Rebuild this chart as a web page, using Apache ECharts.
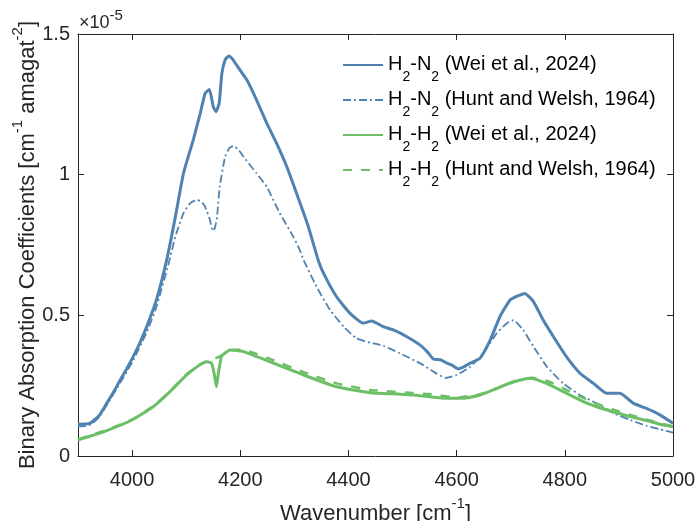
<!DOCTYPE html>
<html>
<head>
<meta charset="utf-8">
<script src="https://cdn.jsdelivr.net/npm/echarts@6/dist/echarts.min.js"></script>
<style>
  html, body { margin: 0; padding: 0; background: #ffffff; }
  #chart { width: 696px; height: 521px; }
</style>
</head>
<body>
<div id="chart"></div>
<script>
// Binary absorption coefficients, in units of 1e-5 cm^-1 amagat^-2

// H2-N2, Wei et al. (2024)
const n2WeiX = [3900, 3922, 3940, 3953, 3965, 3978, 3990, 4002, 4015, 4027, 4045, 4064, 4080, 4095, 4113, 4126, 4135, 4143, 4150, 4155, 4161, 4166, 4172, 4179, 4186, 4193, 4212, 4230, 4249, 4267, 4286, 4304, 4325, 4344, 4354, 4378, 4403, 4427, 4443, 4464, 4483, 4508, 4532, 4545, 4557, 4570, 4582, 4592, 4603, 4614, 4625, 4643, 4662, 4680, 4699, 4717, 4726, 4742, 4760, 4779, 4803, 4828, 4853, 4877, 4902, 4927, 4951, 4976, 5000];
const n2WeiY = [0.113, 0.116, 0.146, 0.187, 0.225, 0.270, 0.310, 0.353, 0.405, 0.460, 0.555, 0.697, 0.850, 1.005, 1.123, 1.218, 1.289, 1.303, 1.242, 1.224, 1.254, 1.360, 1.408, 1.422, 1.410, 1.390, 1.337, 1.266, 1.183, 1.112, 1.028, 0.934, 0.820, 0.697, 0.649, 0.566, 0.507, 0.472, 0.480, 0.460, 0.448, 0.424, 0.395, 0.372, 0.345, 0.342, 0.330, 0.322, 0.310, 0.318, 0.330, 0.347, 0.412, 0.495, 0.555, 0.572, 0.578, 0.549, 0.483, 0.424, 0.353, 0.294, 0.258, 0.223, 0.223, 0.187, 0.169, 0.146, 0.116];

// H2-N2, Hunt and Welsh (1964)
const n2HuntX = [3900, 3922, 3940, 3953, 3978, 4002, 4027, 4045, 4067, 4080, 4095, 4107, 4119, 4128, 4135, 4144, 4149, 4153, 4157, 4162, 4172, 4180, 4187, 4196, 4206, 4230, 4249, 4273, 4298, 4310, 4317, 4341, 4366, 4391, 4415, 4440, 4464, 4495, 4532, 4557, 4579, 4600, 4625, 4649, 4674, 4693, 4705, 4723, 4742, 4767, 4797, 4828, 4859, 4890, 4921, 4951, 4976, 5000];
const n2HuntY = [0.105, 0.110, 0.140, 0.180, 0.260, 0.340, 0.440, 0.530, 0.680, 0.780, 0.863, 0.898, 0.910, 0.905, 0.886, 0.839, 0.800, 0.810, 0.850, 0.957, 1.064, 1.095, 1.102, 1.090, 1.064, 1.005, 0.957, 0.863, 0.780, 0.732, 0.697, 0.602, 0.519, 0.460, 0.418, 0.403, 0.392, 0.365, 0.330, 0.300, 0.278, 0.288, 0.317, 0.365, 0.436, 0.472, 0.483, 0.448, 0.389, 0.317, 0.258, 0.217, 0.187, 0.152, 0.128, 0.107, 0.095, 0.083];

// H2-H2, Wei et al. (2024)
const h2WeiX = [3900, 3947, 4000, 4039, 4070, 4101, 4122, 4138, 4147, 4152, 4156, 4160, 4165, 4172, 4181, 4190, 4206, 4255, 4317, 4378, 4440, 4492, 4520, 4582, 4612, 4643, 4674, 4705, 4736, 4766, 4797, 4828, 4859, 4890, 4921, 4951, 4982, 5000];
const h2WeiY = [0.057, 0.086, 0.128, 0.175, 0.229, 0.288, 0.320, 0.335, 0.330, 0.290, 0.246, 0.300, 0.353, 0.366, 0.377, 0.376, 0.371, 0.335, 0.288, 0.246, 0.225, 0.220, 0.217, 0.205, 0.205, 0.217, 0.240, 0.264, 0.276, 0.258, 0.229, 0.199, 0.175, 0.157, 0.140, 0.126, 0.110, 0.104];

// H2-H2, Hunt and Welsh (1964)
const h2HuntX = [3900, 3950, 4000, 4040, 4070, 4100, 4125, 4145, 4160, 4175, 4190, 4210, 4255, 4317, 4378, 4440, 4500, 4550, 4600, 4640, 4675, 4705, 4740, 4770, 4800, 4830, 4860, 4890, 4920, 4950, 4980, 5000];
const h2HuntY = [0.060, 0.090, 0.130, 0.178, 0.230, 0.290, 0.325, 0.340, 0.352, 0.368, 0.378, 0.376, 0.345, 0.298, 0.258, 0.235, 0.226, 0.220, 0.208, 0.218, 0.240, 0.262, 0.278, 0.265, 0.238, 0.210, 0.185, 0.165, 0.147, 0.130, 0.115, 0.105];

// Axis ticks
const xTicks = [4000, 4200, 4400, 4600, 4800, 5000];
const yTicks = [0, 0.5, 1, 1.5];

const seriesNames = [
  'H2-N2 (Wei et al., 2024)',
  'H2-N2 (Hunt and Welsh, 1964)',
  'H2-H2 (Wei et al., 2024)',
  'H2-H2 (Hunt and Welsh, 1964)'
];
const legendRich = {
  'H2-N2 (Wei et al., 2024)': '{n|H}{s|2}{n|-N}{s|2}{n| (Wei et al., 2024)}',
  'H2-N2 (Hunt and Welsh, 1964)': '{n|H}{s|2}{n|-N}{s|2}{n| (Hunt and Welsh, 1964)}',
  'H2-H2 (Wei et al., 2024)': '{n|H}{s|2}{n|-H}{s|2}{n| (Wei et al., 2024)}',
  'H2-H2 (Hunt and Welsh, 1964)': '{n|H}{s|2}{n|-H}{s|2}{n| (Hunt and Welsh, 1964)}'
};

const BLUE = '#4f82b0';
const GREEN = '#6dbf67';
const INK = '#262626';
const FONT = '"Liberation Sans", Arial, Helvetica, sans-serif';

const pairs = (xs, ys) => xs.map((x, i) => [x, ys[i]]);

const chart = echarts.init(document.getElementById('chart'), null, { renderer: 'canvas' });

const frameAxis = {
  type: 'value',
  axisLine: { show: true, onZero: false, lineStyle: { color: INK, width: 1 } },
  splitLine: { show: false }
};

const supRich = {
  n: { fontSize: 22, fontFamily: FONT, color: INK, lineHeight: 23, padding: [7, 0, 0, 0], verticalAlign: 'top' },
  p: { fontSize: 15, fontFamily: FONT, color: INK, lineHeight: 15, verticalAlign: 'top' }
};

chart.setOption({
  animation: false,
  backgroundColor: '#ffffff',
  textStyle: { fontFamily: FONT },
  title: {
    text: '{m|\u00d710}{e|-5}',
    left: 79,
    top: 8,
    padding: 0,
    textStyle: {
      fontWeight: 'normal',
      rich: {
        m: { fontSize: 18, fontFamily: FONT, fontWeight: 'normal', color: INK, lineHeight: 18, padding: [6, 0, 0, 0], verticalAlign: 'top' },
        e: { fontSize: 15, fontFamily: FONT, fontWeight: 'normal', color: INK, lineHeight: 15, verticalAlign: 'top' }
      }
    }
  },
  grid: { left: 78, right: 23, top: 34, bottom: 65, containLabel: false, outerBoundsMode: 'none' },
  xAxis: [
    Object.assign({}, frameAxis, {
      position: 'bottom',
      min: 3900, max: 5000,
      axisTick: { show: true, inside: true, length: 6, customValues: xTicks, lineStyle: { color: INK } },
      axisLabel: { show: true, customValues: xTicks, formatter: (v) => String(v), fontSize: 20, color: INK, fontFamily: FONT, margin: 14 },
      name: '{n|Wavenumber [cm}{p|-1}{n|]}',
      nameLocation: 'middle',
      nameGap: 40,
      nameMoveOverlap: false,
      nameTextStyle: { rich: supRich }
    }),
    Object.assign({}, frameAxis, {
      position: 'top',
      min: 3900, max: 5000,
      axisTick: { show: true, inside: true, length: 6, customValues: xTicks, lineStyle: { color: INK } },
      axisLabel: { show: false }
    })
  ],
  yAxis: [
    Object.assign({}, frameAxis, {
      position: 'left',
      min: 0, max: 1.5, interval: 0.5,
      axisTick: { show: true, inside: true, length: 6, customValues: yTicks, lineStyle: { color: INK } },
      axisLabel: { show: true, customValues: yTicks, formatter: (v) => String(v), fontSize: 20, color: INK, fontFamily: FONT, margin: 8 },
      name: '{n|Binary Absorption Coefficients [cm}{p|-1}{n| amagat}{p|-2}{n|]}',
      nameLocation: 'middle',
      nameRotate: 90,
      nameGap: 45,
      nameMoveOverlap: false,
      nameTextStyle: { rich: supRich }
    }),
    Object.assign({}, frameAxis, {
      position: 'right',
      min: 0, max: 1.5, interval: 0.5,
      axisTick: { show: true, inside: true, length: 6, customValues: yTicks, lineStyle: { color: INK } },
      axisLabel: { show: false }
    })
  ],
  legend: {
    orient: 'vertical',
    left: 342,
    top: 54,
    padding: 0,
    itemWidth: 40,
    itemHeight: 10,
    itemGap: 5,
    data: seriesNames,
    itemStyle: { opacity: 0 },
    formatter: (name) => legendRich[name],
    textStyle: {
      rich: {
        n: { fontSize: 20, fontFamily: FONT, color: '#000000', lineHeight: 22, verticalAlign: 'top' },
        s: { fontSize: 14, fontFamily: FONT, color: '#000000', lineHeight: 14, padding: [16, 0, 0, 0], verticalAlign: 'top' }
      }
    }
  },
  series: [
    {
      name: seriesNames[0], type: 'line', xAxisIndex: 0, yAxisIndex: 0,
      data: pairs(n2WeiX, n2WeiY), showSymbol: false, symbol: 'none', smooth: 0.15,
      lineStyle: { color: BLUE, width: 3 }, itemStyle: { color: BLUE }
    },
    {
      name: seriesNames[1], type: 'line', xAxisIndex: 0, yAxisIndex: 0,
      data: pairs(n2HuntX, n2HuntY), showSymbol: false, symbol: 'none', smooth: 0.15,
      lineStyle: { color: BLUE, width: 1.8, type: [8, 3, 2, 3] }, itemStyle: { color: BLUE }
    },
    {
      name: seriesNames[2], type: 'line', xAxisIndex: 0, yAxisIndex: 0,
      data: pairs(h2WeiX, h2WeiY), showSymbol: false, symbol: 'none', smooth: 0.15,
      lineStyle: { color: GREEN, width: 3 }, itemStyle: { color: GREEN }
    },
    {
      name: seriesNames[3], type: 'line', xAxisIndex: 0, yAxisIndex: 0,
      data: pairs(h2HuntX, h2HuntY), showSymbol: false, symbol: 'none', smooth: 0.15,
      lineStyle: { color: GREEN, width: 2.5, type: [9, 9] }, itemStyle: { color: GREEN }
    }
  ]
});
</script>
</body>
</html>
